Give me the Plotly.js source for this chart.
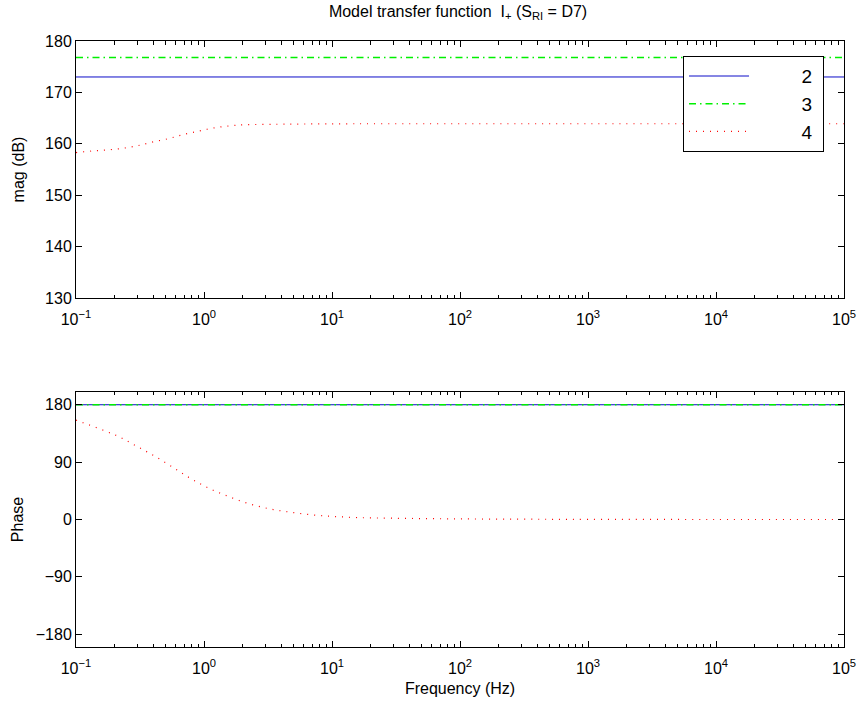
<!DOCTYPE html>
<html>
<head>
<meta charset="utf-8">
<script src="https://cdn.plot.ly/plotly-3.0.1.min.js"></script>
<style>html,body{margin:0;padding:0;background:#fff;}#chart{width:861px;height:704px;}</style>
</head>
<body>
<div id="chart"></div>
<script>
// ---- data ----
const seriesNames = ['2', '3', '4'];
const freqFlat = [0.1, 100000];
const mag2 = [173, 173];
const mag3 = [176.8, 176.8];
const phase2 = [180, 180];
const phase3 = [180, 180];
const freqMag4 = [0.1, 0.133, 0.174, 0.227, 0.298, 0.39, 0.526, 0.689, 0.918, 1.2, 1.6, 2.09, 3.7, 6, 14.6, 50, 300, 2000, 10000, 100000];
const mag4 = [158.3, 158.6, 158.8, 159.1, 159.6, 160.3, 161.0, 161.8, 162.5, 163.1, 163.5, 163.7, 163.8, 163.85, 163.9, 163.9, 163.9, 163.9, 163.9, 163.9];
const freqPhase4 = [0.1, 0.113, 0.168, 0.218, 0.277, 0.356, 0.453, 0.586, 0.741, 0.942, 1.2, 1.55, 2.03, 2.66, 3.48, 4.56, 5.97, 7.94, 10.5, 15.9, 30, 88.6, 300, 1000, 10000, 100000];
const phase4 = [155.8, 152, 139, 129.7, 118.4, 106.5, 94.5, 80.5, 67.5, 55.6, 45.2, 36.3, 27.5, 20.7, 15.6, 11.9, 8.8, 6.2, 4.7, 3, 2, 1, 0.5, 0.2, 0, 0];
const xTickVals = [0.1, 1, 10, 100, 1000, 10000, 100000];
const xTickText = ['10<sup>\u22121</sup>', '10<sup>0</sup>', '10<sup>1</sup>', '10<sup>2</sup>', '10<sup>3</sup>', '10<sup>4</sup>', '10<sup>5</sup>'];
const magTicks = [130, 140, 150, 160, 170, 180];
const phaseTicks = [-180, -90, 0, 90, 180];
const phaseTickText = ['\u2212180', '\u221290', '0', '90', '180'];

const colors = ['#0c0cc8', '#00f000', '#ff0000'];
const widths = [1, 1.5, 1.2];
const dashes = ['solid', '7px,4px,1.5px,4px', '1px,6px'];
const padL = '\u00a0'.repeat(9);
const padR = '\u00a0';

const traces = [
  {x: freqFlat, y: mag2, name: padL + seriesNames[0] + padR, xaxis: 'x', yaxis: 'y', mode: 'lines', line: {color: colors[0], width: widths[0], dash: dashes[0]}, showlegend: true},
  {x: freqFlat, y: mag3, name: padL + seriesNames[1] + padR, xaxis: 'x', yaxis: 'y', mode: 'lines', line: {color: colors[1], width: widths[1], dash: dashes[1]}, showlegend: true},
  {x: freqMag4, y: mag4, name: padL + seriesNames[2] + padR, xaxis: 'x', yaxis: 'y', mode: 'lines', line: {color: colors[2], width: widths[2], dash: dashes[2], shape: 'spline'}, showlegend: true},
  {x: freqFlat, y: phase2, xaxis: 'x2', yaxis: 'y2', mode: 'lines', line: {color: colors[0], width: widths[0], dash: dashes[0]}, showlegend: false},
  {x: freqFlat, y: phase3, xaxis: 'x2', yaxis: 'y2', mode: 'lines', line: {color: colors[1], width: widths[1], dash: dashes[1]}, showlegend: false},
  {x: freqPhase4, y: phase4, xaxis: 'x2', yaxis: 'y2', mode: 'lines', line: {color: colors[2], width: widths[2], dash: dashes[2], shape: 'spline'}, showlegend: false}
];

const fontFam = '"Liberation Sans", Arial, Helvetica, sans-serif';
const xCommon = {
  type: 'log', range: [-1, 5], tickmode: 'array', tickvals: xTickVals, ticktext: xTickText,
  ticks: 'inside', ticklen: 6, tickcolor: '#000', tickwidth: 1, ticklabelstandoff: 7,
  minor: {dtick: 'D1', ticks: 'inside', ticklen: 3.5, tickcolor: '#000', showgrid: false},
  showline: true, linecolor: '#000', linewidth: 1, mirror: 'ticks',
  showgrid: false, zeroline: false, tickfont: {size: 16, color: '#000'}, fixedrange: true
};
const yCommon = {
  ticks: 'inside', ticklen: 6, tickcolor: '#000', tickwidth: 1,
  showline: true, linecolor: '#000', linewidth: 1, mirror: 'ticks',
  showgrid: false, zeroline: false, tickfont: {size: 16, color: '#000'}, fixedrange: true
};

const layout = {
  width: 861, height: 704,
  margin: {l: 76, r: 17, t: 41, b: 57},
  paper_bgcolor: '#fff', plot_bgcolor: '#fff',
  font: {family: fontFam, color: '#000', size: 16},
  title: {text: 'Model transfer function  I<sub>+</sub> (S<sub>RI</sub> = D7)', font: {size: 16}, x: 0.532, xanchor: 'center', y: 0.992, yanchor: 'top'},
  showlegend: true,
  legend: {x: 0.974, y: 0.975, xanchor: 'right', yanchor: 'top', bordercolor: '#000', borderwidth: 1, bgcolor: '#fff',
           font: {size: 19, color: '#000'}, itemwidth: 60, tracegroupgap: 0},
  xaxis: Object.assign({}, xCommon, {anchor: 'y', domain: [0, 1]}),
  yaxis: Object.assign({}, yCommon, {anchor: 'x', domain: [0.5759, 1], range: [130, 180], tickvals: magTicks,
         title: {text: 'mag (dB)', font: {size: 16}, standoff: 16}}),
  xaxis2: Object.assign({}, xCommon, {anchor: 'y2', domain: [0, 1],
         title: {text: 'Frequency (Hz)', font: {size: 16}, standoff: 6}}),
  yaxis2: Object.assign({}, yCommon, {anchor: 'x2', domain: [0, 0.4208], range: [-200, 200], tickmode: 'array', tickvals: phaseTicks, ticktext: phaseTickText,
         title: {text: 'Phase', font: {size: 16}, standoff: 8}})
};

Plotly.newPlot('chart', traces, layout, {displayModeBar: false, staticPlot: true});
</script>
</body>
</html>
